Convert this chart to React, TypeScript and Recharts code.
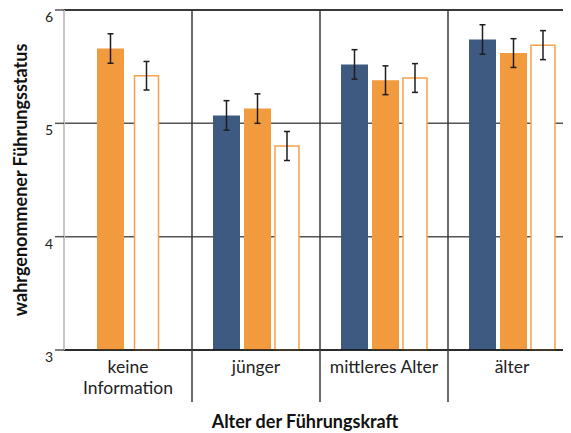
import { Bar, BarChart, CartesianGrid, ErrorBar, ReferenceLine, XAxis, YAxis } from "recharts";

// Mittelwerte und Standardfehler je Bedingung (null = Bedingung nicht erhoben)
const categories = ["keine\nInformation", "jünger", "mittleres Alter", "älter"];
const blueMeans = [null, 5.07, 5.52, 5.74];
const blueErrors = [null, 0.13, 0.13, 0.13];
const orangeMeans = [5.66, 5.13, 5.38, 5.62];
const orangeErrors = [0.13, 0.13, 0.127, 0.127];
const openMeans = [5.42, 4.8, 5.4, 5.69];
const openErrors = [0.126, 0.128, 0.127, 0.128];
const yTicks = [3, 4, 5, 6];
const separators = [1, 2, 3];

const BLUE = "#3f5a80";
const ORANGE = "#f29a3e";
const OPEN_STROKE = "#f5a14f";
const FONT = "Lato, 'Noto Sans', sans-serif";

// groups without the dark bar are drawn on a second band axis with two slots
const data = categories.map((category, i) => {
  const full = blueMeans[i] !== null;
  return {
    category,
    slot: i,
    blue: blueMeans[i],
    blueErr: blueErrors[i],
    orange: full ? orangeMeans[i] : null,
    orangeErr: full ? orangeErrors[i] : null,
    open: full ? openMeans[i] : null,
    openErr: full ? openErrors[i] : null,
    orange2: full ? null : orangeMeans[i],
    orange2Err: full ? null : orangeErrors[i],
    open2: full ? null : openMeans[i],
    open2Err: full ? null : openErrors[i],
  };
});

const YTick = ({ x, y, payload }: any) => (
  <text x={x} y={y + 7} dy="0.35em" textAnchor="end" fontSize={14} fontFamily={FONT} fill="#222">
    {payload.value}
  </text>
);

const CategoryTick = ({ x, y, payload }: any) => (
  <text x={x} y={y} textAnchor="middle" fontSize={17.5} fontFamily={FONT} fill="#222">
    {String(payload.value)
      .split("\n")
      .map((line: string, i: number) => (
        <tspan key={i} x={x} dy={i === 0 ? 14.5 : 21.5}>
          {line}
        </tspan>
      ))}
  </text>
);

const errProps = { width: 3, stroke: "#1e1e1e", strokeWidth: 1.5 };
const SEP = { stroke: "#3a3a3a", strokeWidth: 1.5 };

export default function App() {
  return (
    <div style={{ marginLeft: -8, marginTop: -8, width: 571, height: 433, overflow: "hidden", background: "#fff" }}>
      <BarChart width={580} height={433} data={data} margin={{ top: 10, right: 4, bottom: 0, left: 0 }} barGap={4}>
        <CartesianGrid vertical={false} stroke="#555" strokeWidth={1.5} />
        <XAxis
          dataKey="category"
          height={83}
          axisLine={false}
          tickLine={false}
          tick={<CategoryTick />}
          interval={0}
          label={{
            value: "Alter der Führungskraft",
            position: "insideBottom",
            offset: 5,
            dx: -15,
            style: { fontFamily: FONT, fontSize: 18, fontWeight: 700, fill: "#111" },
          }}
        />
        <XAxis xAxisId="b" dataKey="category" hide />
        {/* group separators, running from the top edge down through the labels */}
        <XAxis
          xAxisId="sep"
          dataKey="slot"
          type="number"
          domain={[0, categories.length]}
          allowDataOverflow
          ticks={separators}
          orientation="top"
          mirror
          height={1}
          axisLine={false}
          tick={() => <g />}
          tickSize={392}
          tickLine={SEP}
        />
        <YAxis
          domain={[3, 6]}
          ticks={yTicks}
          width={64}
          tickSize={9}
          tickLine={{ stroke: "#555", strokeWidth: 1.5 }}
          axisLine={{ stroke: "#c6c6c6", strokeWidth: 2 }}
          tick={<YTick />}
          label={{
            value: "wahrgenommener Führungsstatus",
            angle: -90,
            position: "insideLeft",
            offset: 21,
            style: { textAnchor: "middle", fontFamily: FONT, fontSize: 18, fontWeight: 700, fill: "#111" },
          }}
        />
        <ReferenceLine y={6} stroke="#222" strokeWidth={1.5} />
        <ReferenceLine y={3} stroke="#111" strokeWidth={1.5} />
        <Bar dataKey="blue" fill={BLUE} barSize={27} isAnimationActive={false}>
          <ErrorBar dataKey="blueErr" {...errProps} />
        </Bar>
        <Bar dataKey="orange" fill={ORANGE} barSize={27} isAnimationActive={false}>
          <ErrorBar dataKey="orangeErr" {...errProps} />
        </Bar>
        <Bar dataKey="open" fill="#fff" stroke={OPEN_STROKE} strokeWidth={1.5} barSize={24} isAnimationActive={false}>
          <ErrorBar dataKey="openErr" {...errProps} />
        </Bar>
        <Bar xAxisId="b" dataKey="orange2" fill={ORANGE} barSize={27} isAnimationActive={false}>
          <ErrorBar dataKey="orange2Err" {...errProps} />
        </Bar>
        <Bar xAxisId="b" dataKey="gap" barSize={2.5} isAnimationActive={false} />
        <Bar xAxisId="b" dataKey="open2" fill="#fff" stroke={OPEN_STROKE} strokeWidth={1.5} barSize={24} isAnimationActive={false}>
          <ErrorBar dataKey="open2Err" {...errProps} />
        </Bar>
      </BarChart>
    </div>
  );
}
